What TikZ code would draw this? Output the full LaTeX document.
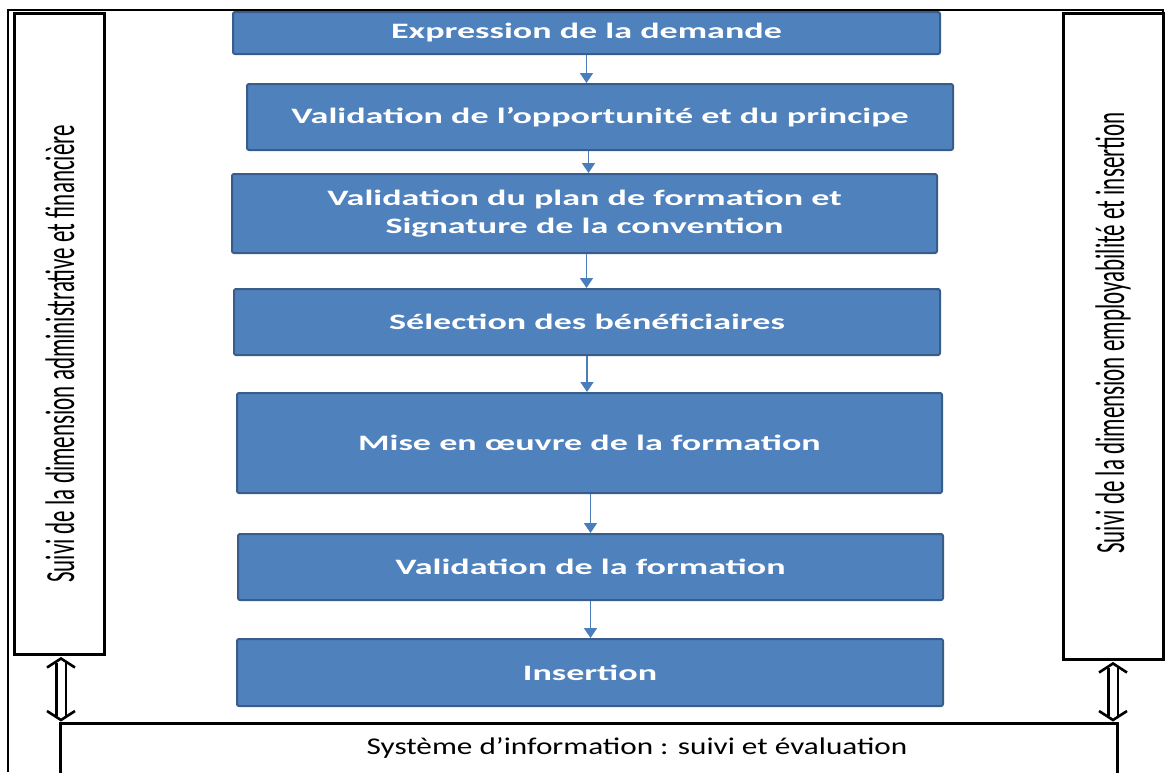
\documentclass[tikz,border=0pt]{standalone}
\usepackage{fontspec}
\setmainfont{Carlito}
\usetikzlibrary{arrows.meta}
\definecolor{boxblue}{HTML}{4F81BD}
\definecolor{boxedge}{HTML}{385D8A}
\definecolor{arrowblue}{HTML}{4A7EBB}
\newcommand{\hstretch}[1]{\scalebox{1.64}[1]{#1}}
\newcommand{\sidestretch}[1]{\scalebox{1}[1.8]{#1}}
\begin{document}
\begin{tikzpicture}[x=1pt,y=-1pt,
  stepbox/.style={draw=boxedge, line width=2pt, fill=boxblue, rounded corners=2pt,
    text=white, font=\fontsize{22}{28}\selectfont\bfseries, align=center, inner sep=0pt},
  flow/.style={draw=arrowblue, line width=1.5pt, -{Triangle[length=10pt,width=13pt]}},
  sidebox/.style={draw=black, line width=3pt, fill=white, inner sep=0pt},
  sidetext/.style={font=\fontsize{23}{23}\selectfont, rotate=90, inner sep=0pt},
  dshaft/.style={draw=black, double=white, double distance=7pt, line width=2.5pt},
  dhead/.style={draw=black, line width=2.6pt, line join=miter},
  frame/.style={draw=black, line width=1.6pt},
  bottomline/.style={draw=black, line width=3pt}]
\useasboundingbox (0,0) rectangle (1165,772);
% outer frame
\coordinate (fa) at (8,772);
\coordinate (fb) at (8,10);
\coordinate (fc) at (1163,10);
\coordinate (fd) at (1163,40);
\draw[frame] (fa) -- (fb) -- (fc) -- (fd);
% side boxes
\node[sidebox, minimum width=90pt, minimum height=641pt] (L) at (59,333.5) {};
\node[sidebox, minimum width=100pt, minimum height=646pt] (R) at (1113,336) {};
\node[sidetext] (Lt) at (60,354) {\sidestretch{Suivi de la dimension administrative et financière}};
\node[sidetext] (Rt) at (1113,333) {\sidestretch{Suivi de la dimension employabilité et insertion}};
% bottom box
\coordinate (bl) at (60,774);
\coordinate (tl) at (60,723);
\coordinate (tr) at (1117,723);
\coordinate (br) at (1117,774);
\draw[bottomline] (bl) -- (tl) -- (tr) -- (br);
\node[font=\fontsize{24}{24}\selectfont] (S) at (637,748) {\scalebox{1.3}[1]{Système d’information : suivi et évaluation}};
% flow boxes
\node[stepbox, minimum width=707pt, minimum height=42pt] (n1) at (586.5,33) {\hstretch{Expression de la demande}};
\node[stepbox, minimum width=706pt, minimum height=66pt] (n2) at (600,117) {\hstretch{Validation de l’opportunité et du principe}};
\node[stepbox, minimum width=705pt, minimum height=79pt] (n3) at (584.5,213.5) {\hstretch{\begin{tabular}{@{}c@{}}Validation du plan de formation et\\Signature de la convention\end{tabular}}};
\node[stepbox, minimum width=706pt, minimum height=66pt] (n4) at (587,322) {\hstretch{Sélection des bénéficiaires}};
\node[stepbox, minimum width=705pt, minimum height=100pt] (n5) at (589.5,443) {\hstretch{Mise en œuvre de la formation}};
\node[stepbox, minimum width=705pt, minimum height=66pt] (n6) at (590.5,567) {\hstretch{Validation de la formation}};
\node[stepbox, minimum width=706pt, minimum height=67pt] (n7) at (590,672.5) {\hstretch{Insertion}};
% flow arrows
\draw[flow] (n1.south) -- (n1.south |- n2.north);
\draw[flow] ([xshift=4pt]n3.north |- n2.south) -- ([xshift=4pt]n3.north);
\draw[flow] ([xshift=2pt]n3.south) -- ([xshift=2pt]n3.south |- n4.north);
\draw[flow] (n4.south) -- (n4.south |- n5.north);
\draw[flow] ([xshift=1pt]n5.south) -- ([xshift=1pt]n5.south |- n6.north);
\draw[flow] (n6.south) -- (n6.south |- n7.north);
% double arrows (hollow, two-headed)
\coordinate (la) at ([xshift=2pt,yshift=-3pt]L.south);
\coordinate (lb) at ([yshift=3pt]la |- tl);
\coordinate (ra) at ([yshift=-3pt]R.south);
\coordinate (rb) at ([yshift=3pt]ra |- tr);
\draw[dshaft] ([yshift=-4pt]la) -- ([yshift=4pt]lb);
\draw[dhead] ([xshift=-14pt,yshift=-9pt]la) -- (la) -- ([xshift=14pt,yshift=-9pt]la);
\draw[dhead] ([xshift=-14pt,yshift=9pt]lb) -- (lb) -- ([xshift=14pt,yshift=9pt]lb);
\draw[dshaft] ([yshift=-4pt]ra) -- ([yshift=4pt]rb);
\draw[dhead] ([xshift=-14pt,yshift=-9pt]ra) -- (ra) -- ([xshift=14pt,yshift=-9pt]ra);
\draw[dhead] ([xshift=-14pt,yshift=9pt]rb) -- (rb) -- ([xshift=14pt,yshift=9pt]rb);
\end{tikzpicture}
\end{document}
